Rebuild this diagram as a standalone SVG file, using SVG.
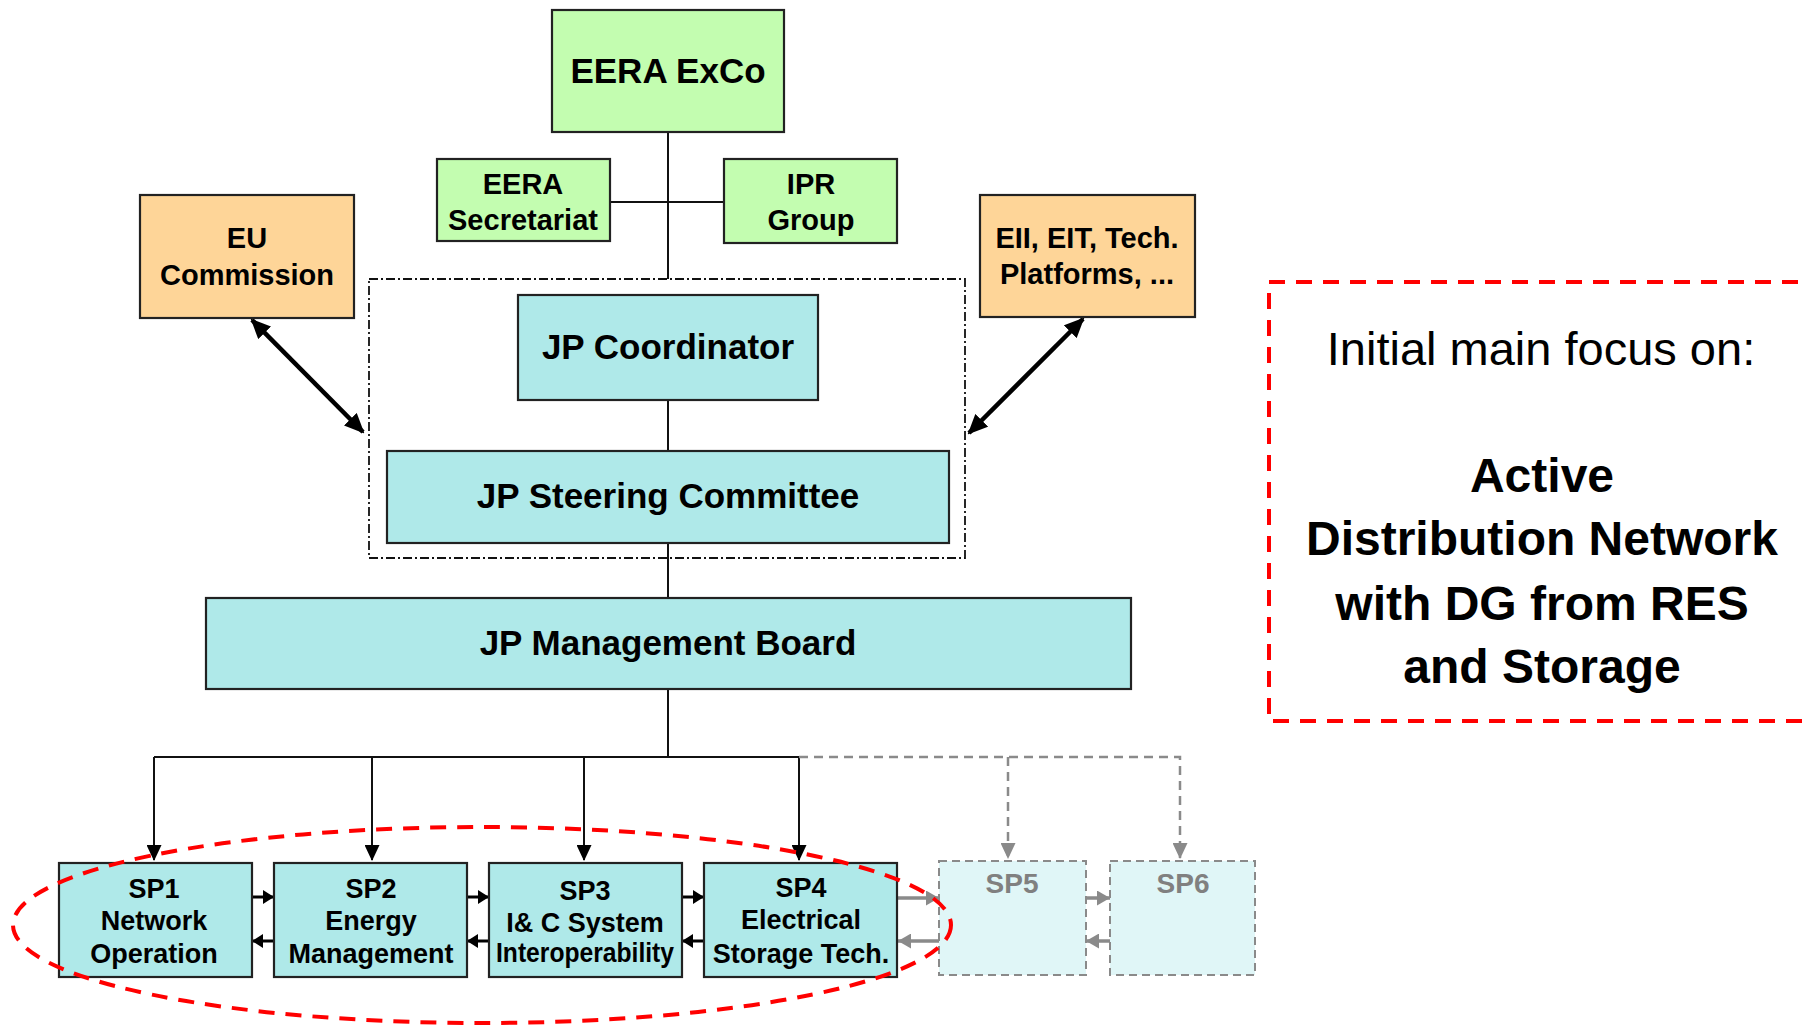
<svg xmlns="http://www.w3.org/2000/svg" width="1809" height="1029" viewBox="0 0 1809 1029">
<style>
.box{stroke:#222;stroke-width:2.2}
.g{fill:#c3fdb0}
.o{fill:#fed598}
.c{fill:#afe9e9}
.t{font-family:"Liberation Sans",Arial,sans-serif;font-weight:bold;fill:#000;text-anchor:middle}
.big{font-size:35px}
.mid{font-size:29px}
.sm{font-size:27px}
.ln{stroke:#111;stroke-width:2;fill:none}
.gl{stroke:#8a8a8a;stroke-width:2.5;fill:none;stroke-dasharray:9,6}
.ghost{fill:#e0f6f7;stroke:#8a8a8a;stroke-width:2;stroke-dasharray:8,5}
.gt{font-family:"Liberation Sans",Arial,sans-serif;font-weight:bold;fill:#808080;text-anchor:middle;font-size:28px}
.red{fill:none;stroke:#ff0000;stroke-width:4;stroke-dasharray:16,11}
.nt{font-family:"Liberation Sans",Arial,sans-serif;text-anchor:middle;fill:#000}
</style>
<defs>
<marker id="thick" markerUnits="userSpaceOnUse" viewBox="0 0 20 18" refX="18" refY="9" markerWidth="20" markerHeight="18" orient="auto-start-reverse">
<path d="M0,0 L20,9 L0,18 z" fill="#000"/>
</marker>
<marker id="dn" markerUnits="userSpaceOnUse" viewBox="0 0 16 15" refX="15" refY="7.5" markerWidth="16" markerHeight="15" orient="auto">
<path d="M0,0 L16,7.5 L0,15 z" fill="#000"/>
</marker>
<marker id="dng" markerUnits="userSpaceOnUse" viewBox="0 0 16 15" refX="15" refY="7.5" markerWidth="16" markerHeight="15" orient="auto">
<path d="M0,0 L16,7.5 L0,15 z" fill="#8a8a8a"/>
</marker>
<marker id="sa" markerUnits="userSpaceOnUse" viewBox="0 0 11 14" refX="11" refY="7" markerWidth="11" markerHeight="14" orient="auto">
<path d="M0,0 L11,7 L0,14 z" fill="#000"/>
</marker>
<marker id="sag" markerUnits="userSpaceOnUse" viewBox="0 0 13 15" refX="13" refY="7.5" markerWidth="13" markerHeight="15" orient="auto">
<path d="M0,0 L13,7.5 L0,15 z" fill="#8a8a8a"/>
</marker>
</defs>

<g id="connectors">
<line class="ln" x1="668" y1="132" x2="668" y2="279"/>
<line class="ln" x1="610" y1="202" x2="724" y2="202"/>
<line class="ln" x1="668" y1="400" x2="668" y2="451"/>
<line class="ln" x1="668" y1="543" x2="668" y2="598"/>
<line class="ln" x1="668" y1="689" x2="668" y2="757"/>
<line class="ln" x1="154" y1="757" x2="799" y2="757"/>
<line class="ln" x1="154" y1="757" x2="154" y2="860" marker-end="url(#dn)"/>
<line class="ln" x1="372" y1="757" x2="372" y2="860" marker-end="url(#dn)"/>
<line class="ln" x1="584" y1="757" x2="584" y2="860" marker-end="url(#dn)"/>
<line class="ln" x1="799" y1="757" x2="799" y2="860" marker-end="url(#dn)"/>
<path class="gl" d="M799,757 H1180 V858" marker-end="url(#dng)"/>
<line class="gl" x1="1008" y1="757" x2="1008" y2="858" marker-end="url(#dng)"/>
<line stroke="#000" stroke-width="4.5" x1="252" y1="320" x2="363" y2="432" marker-start="url(#thick)" marker-end="url(#thick)"/>
<line stroke="#000" stroke-width="4.5" x1="1083" y1="319" x2="969" y2="433" marker-start="url(#thick)" marker-end="url(#thick)"/>
<line stroke="#000" stroke-width="3" x1="252" y1="897" x2="274" y2="897" marker-end="url(#sa)"/>
<line stroke="#000" stroke-width="3" x1="274" y1="941" x2="252" y2="941" marker-end="url(#sa)"/>
<line stroke="#000" stroke-width="3" x1="467" y1="897" x2="489" y2="897" marker-end="url(#sa)"/>
<line stroke="#000" stroke-width="3" x1="489" y1="941" x2="467" y2="941" marker-end="url(#sa)"/>
<line stroke="#000" stroke-width="3" x1="682" y1="897" x2="704" y2="897" marker-end="url(#sa)"/>
<line stroke="#000" stroke-width="3" x1="704" y1="941" x2="682" y2="941" marker-end="url(#sa)"/>
<line stroke="#8a8a8a" stroke-width="3.5" x1="898" y1="898" x2="939" y2="898" marker-end="url(#sag)"/>
<line stroke="#8a8a8a" stroke-width="3.5" x1="939" y1="941" x2="898" y2="941" marker-end="url(#sag)"/>
<line stroke="#8a8a8a" stroke-width="3.5" x1="1086" y1="898" x2="1110" y2="898" marker-end="url(#sag)"/>
<line stroke="#8a8a8a" stroke-width="3.5" x1="1110" y1="941" x2="1086" y2="941" marker-end="url(#sag)"/>
</g>

<rect id="jp-group" x="369" y="279" width="596" height="279" fill="none" stroke="#111" stroke-width="1.8" stroke-dasharray="9,3,2,3"/>

<g id="exco"><rect class="box g" x="552" y="10" width="232" height="122"/><text class="t big" x="668" y="83">EERA ExCo</text></g>
<g id="secretariat"><rect class="box g" x="437" y="159" width="173" height="82"/><text class="t mid" x="523" y="194">EERA</text><text class="t mid" x="523" y="230">Secretariat</text></g>
<g id="ipr"><rect class="box g" x="724" y="159" width="173" height="84"/><text class="t mid" x="811" y="194">IPR</text><text class="t mid" x="811" y="230">Group</text></g>
<g id="eu"><rect class="box o" x="140" y="195" width="214" height="123"/><text class="t mid" x="247" y="248">EU</text><text class="t mid" x="247" y="285">Commission</text></g>
<g id="eii"><rect class="box o" x="980" y="195" width="215" height="122"/><text class="t mid" x="1087" y="248">EII, EIT, Tech.</text><text class="t mid" x="1087" y="284">Platforms, ...</text></g>
<g id="coordinator"><rect class="box c" x="518" y="295" width="300" height="105"/><text class="t big" x="668" y="359">JP Coordinator</text></g>
<g id="steering"><rect class="box c" x="387" y="451" width="562" height="92"/><text class="t big" x="668" y="508">JP Steering Committee</text></g>
<g id="mgmt"><rect class="box c" x="206" y="598" width="925" height="91"/><text class="t big" x="668" y="655">JP Management Board</text></g>

<g id="sp1"><rect class="box c" x="59" y="863" width="193" height="114"/><text class="t sm" x="154" y="898">SP1</text><text class="t sm" x="154" y="930">Network</text><text class="t sm" x="154" y="963">Operation</text></g>
<g id="sp2"><rect class="box c" x="274" y="863" width="193" height="114"/><text class="t sm" x="371" y="898">SP2</text><text class="t sm" x="371" y="930">Energy</text><text class="t sm" x="371" y="963">Management</text></g>
<g id="sp3"><rect class="box c" x="489" y="863" width="193" height="114"/><text class="t sm" x="585" y="900">SP3</text><text class="t sm" x="585" y="932">I&amp; C System</text><text class="t sm" x="585" y="962" textLength="178" lengthAdjust="spacingAndGlyphs">Interoperability</text></g>
<g id="sp4"><rect class="box c" x="704" y="863" width="193" height="114"/><text class="t sm" x="801" y="897">SP4</text><text class="t sm" x="801" y="929">Electrical</text><text class="t sm" x="801" y="963">Storage Tech.</text></g>
<g id="sp5"><rect class="ghost" x="939" y="861" width="147" height="114"/><text class="gt" x="1012" y="893">SP5</text></g>
<g id="sp6"><rect class="ghost" x="1110" y="861" width="145" height="114"/><text class="gt" x="1183" y="893">SP6</text></g>

<ellipse id="focus-ellipse" class="red" cx="482" cy="925" rx="469" ry="98"/>

<g id="focus-note">
<rect class="red" x="1269" y="282" width="560" height="439"/>
<text class="nt" x="1541" y="365" font-size="47">Initial main focus on:</text>
<text class="nt" x="1542" y="492" font-size="48" font-weight="bold">Active</text>
<text class="nt" x="1542" y="555" font-size="48" font-weight="bold">Distribution Network</text>
<text class="nt" x="1542" y="620" font-size="48" font-weight="bold">with DG from RES</text>
<text class="nt" x="1542" y="683" font-size="48" font-weight="bold">and Storage</text>
</g>
</svg>
